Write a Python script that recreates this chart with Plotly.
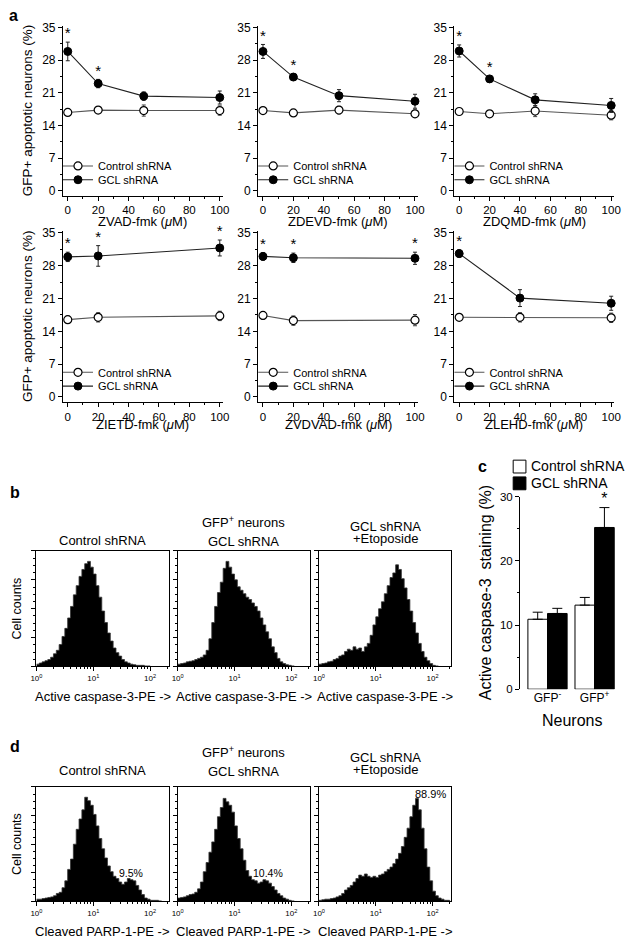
import numpy as np
import plotly.graph_objects as go

W, H = 632, 944
FONT = "Liberation Sans, Arial, Helvetica, sans-serif"


def fx(p):
    return p / W


def fy(p):
    return 1 - p / H


# ---------------- panel a data ----------------
a_titles = ["ZVAD-fmk (<i>μ</i>M)", "ZDEVD-fmk (<i>μ</i>M)", "ZDQMD-fmk (<i>μ</i>M)",
            "ZIETD-fmk (<i>μ</i>M)", "ZVDVAD-fmk (<i>μ</i>M)", "ZLEHD-fmk (<i>μ</i>M)"]
a_dose = [[0, 20, 50, 100], [0, 20, 50, 100], [0, 20, 50, 100],
          [0, 20, 100], [0, 20, 100], [0, 40, 100]]
gcl_mean = [[29.9, 23.0, 20.3, 20.0], [29.9, 24.4, 20.4, 19.2], [30.0, 24.0, 19.5, 18.3],
            [29.9, 30.1, 31.8], [30.0, 29.7, 29.6], [30.6, 21.1, 20.0]]
gcl_err = [[2.0, 0.9, 0.9, 1.4], [1.5, 0.7, 1.3, 1.5], [1.3, 0.6, 1.3, 1.5],
           [1.0, 2.2, 1.7], [0.8, 1.0, 1.3], [0.8, 1.8, 1.5]]
ctl_mean = [[16.8, 17.3, 17.2, 17.2], [17.2, 16.7, 17.3, 16.5], [17.0, 16.5, 17.1, 16.2],
            [16.5, 17.0, 17.3], [17.4, 16.3, 16.4], [17.0, 17.0, 16.9]]
ctl_err = [[0.5, 0.6, 1.2, 1.0], [0.4, 0.4, 0.8, 0.8], [0.5, 0.4, 1.2, 1.0],
           [0.7, 1.0, 1.0], [0.8, 1.0, 1.2], [0.6, 1.0, 1.0]]
a_sig = [[1, 1, 0, 0], [1, 1, 0, 0], [1, 1, 0, 0], [1, 1, 1], [1, 1, 1], [1, 0, 0]]
a_yticks = [0, 7, 14, 21, 28, 35]
a_xticks = [0, 20, 40, 60, 80, 100]
series_names = ["Control shRNA", "GCL shRNA"]

# ---------------- panel c data ----------------
c_groups = ["GFP<sup>-</sup>", "GFP<sup>+</sup>"]
c_ctl = [10.9, 13.1]
c_ctl_err = [1.1, 1.2]
c_gcl = [11.8, 25.2]
c_gcl_err = [0.8, 3.1]
c_sig = [0, 1]
c_yticks = [0, 10, 20, 30]

# ---------------- panels b / d histogram data (log10 channel bins of 0.05) ----------------
hist_bin = 0.05
b_ctl = [2, 3, 4, 5, 6, 8, 11, 14, 19, 26, 33, 42, 52, 62, 70, 78, 84, 89, 91, 86,
         80, 70, 60, 48, 38, 29, 22, 16, 12, 9, 6, 4, 3, 2, 1.5, 1, 1, 1, 0.5, 0.5, 0]
b_gcl = [2, 2.5, 3, 4, 4.5, 5, 6, 7, 8, 10, 14, 24, 38, 52, 64, 73, 85, 91, 86, 80,
         75, 69, 66, 63, 60, 58, 55, 52, 48, 42, 36, 30, 24, 17, 12, 7, 4, 2.5, 1.5, 1, 0.5, 0]
b_eto = [2, 2.5, 3, 4, 4.5, 6, 7, 9, 10, 13, 15, 14, 17, 15, 16, 13, 17, 20, 27, 36,
         43, 50, 56, 63, 70, 77, 81, 88, 84, 76, 68, 58, 48, 38, 29, 20, 13, 8, 5, 2.5, 1, 0.5, 0]
d_ctl = [2, 2, 2.5, 3, 3.5, 4, 5, 7, 8, 12, 18, 28, 37, 50, 63, 72, 80, 91, 88, 84,
         76, 66, 55, 46, 38, 31, 26, 22, 20, 17, 15, 17, 20, 19, 18, 14, 10, 6, 3, 2,
         1, 1, 1, 0.5, 0]
d_gcl = [3, 3.5, 4, 5, 6, 6.5, 8, 11, 17, 26, 34, 43, 52, 63, 74, 82, 90, 87, 84, 78,
         66, 55, 46, 36, 27, 22, 19, 18, 16, 17, 19, 18, 16, 13, 10, 7, 5, 3, 2, 1, 0.5, 0]
d_eto = [1, 1.5, 2, 2, 2.5, 3, 4, 5, 7, 10, 12, 14, 17, 20, 23, 22, 24, 22, 21, 22,
         21, 23, 24, 26, 28, 30, 33, 37, 42, 48, 56, 64, 74, 84, 90, 80, 64, 46, 30, 18,
         9, 5, 3, 2, 1, 1, 0]
b_hists = [b_ctl, b_gcl, b_eto]
d_hists = [d_ctl, d_gcl, d_eto]
b_xlabel = "Active caspase-3-PE ->"
d_xlabel = "Cleaved PARP-1-PE ->"
d_percent = ["9.5%", "10.4%", "88.9%"]
hist_xticks = [0, 1, 2]
hist_xticktext = ["10<sup>0</sup>", "10<sup>1</sup>", "10<sup>2</sup>"]

fig = go.Figure()
layout = {}
annotations = []
shapes = []

axis_common = dict(showline=True, linecolor="black", linewidth=1, ticks="outside",
                   tickcolor="black", showgrid=False, zeroline=False,
                   tickfont=dict(family=FONT, size=12, color="black"))


def note(text, x, y, size, angle=0, xanchor="center", bold=False):
    annotations.append(dict(text=("<b>%s</b>" % text) if bold else text, x=fx(x), y=fy(y),
                            xref="paper", yref="paper", xanchor=xanchor, yanchor="middle",
                            showarrow=False, textangle=angle,
                            font=dict(family=FONT, size=size, color="black")))


# ---------------- panel a ----------------
col_dom = [(58, 221), (257, 420), (457, 620)]
row_dom = [(20, 192), (228, 401)]
row_yrange = [(-1.06, 35.42), (-1.05, 35.4)]
leg_y = [(162, 176), (371, 385)]
xtitle_y = [218, 424]
for i in range(6):
    r, c = divmod(i, 3)
    k = i + 1
    xs = "" if k == 1 else str(k)
    xa, ya = "x" + xs, "y" + xs
    lg1 = "legend" if k == 1 else "legend%d" % (2 * i + 1)
    lg2 = "legend%d" % (2 * i + 2)
    x = a_dose[i]
    fig.add_trace(go.Scatter(
        x=x, y=ctl_mean[i], mode="lines+markers", name=series_names[0],
        line=dict(color="#555555", width=1.1),
        marker=dict(symbol="circle", size=8, color="white", line=dict(color="black", width=1.2)),
        error_y=dict(type="data", array=ctl_err[i], color="#444444", thickness=1, width=2),
        xaxis=xa, yaxis=ya, legend=lg1, cliponaxis=False))
    fig.add_trace(go.Scatter(
        x=x, y=gcl_mean[i], mode="lines+markers", name=series_names[1],
        line=dict(color="#222222", width=1.1),
        marker=dict(symbol="circle", size=8, color="black", line=dict(color="black", width=1)),
        error_y=dict(type="data", array=gcl_err[i], color="#222222", thickness=1, width=2),
        xaxis=xa, yaxis=ya, legend=lg2, cliponaxis=False))
    sx = [x[j] for j in range(len(x)) if a_sig[i][j]]
    sy = [gcl_mean[i][j] + gcl_err[i][j] for j in range(len(x)) if a_sig[i][j]]
    fig.add_trace(go.Scatter(
        x=sx, y=sy, mode="text", text=["*"] * len(sx), textposition="top center",
        textfont=dict(family=FONT, size=15, color="black"), showlegend=False,
        xaxis=xa, yaxis=ya, cliponaxis=False, hoverinfo="skip"))
    layout["xaxis" + xs] = dict(axis_common, domain=[fx(col_dom[c][0]), fx(col_dom[c][1])],
                                range=[-3.2, 102], tickvals=a_xticks, ticklen=4, anchor=ya,
                                tickfont=dict(family=FONT, size=11.5, color="black"),
                                minor=dict(dtick=10, ticklen=2, ticks="outside", tickcolor="black"))
    layout["yaxis" + xs] = dict(axis_common, domain=[fy(row_dom[r][1]), fy(row_dom[r][0])],
                                range=list(row_yrange[r]), tickvals=a_yticks, ticklen=4, anchor=xa,
                                minor=dict(dtick=3.5, ticklen=2, ticks="outside", tickcolor="black"))
    for lg, yy in ((lg1, leg_y[r][0]), (lg2, leg_y[r][1])):
        layout[lg] = dict(x=fx(col_dom[c][0] - 5), xanchor="left", y=fy(yy), yanchor="middle",
                          bgcolor="rgba(0,0,0,0)", borderwidth=0,
                          font=dict(family=FONT, size=11, color="black"))
    note(a_titles[i], (col_dom[c][0] + col_dom[c][1]) / 2, xtitle_y[r], 13)
for r in range(2):
    note("GFP+ apoptotic neurons (%)", 22, (row_dom[r][0] + row_dom[r][1]) / 2, 13.5, angle=-90)

# ---------------- panels b and d ----------------
box_x = [(31, 166), (175, 310), (319, 454)]
minor_vals = [d + np.log10(m) for d in range(3) for m in range(2, 10) if d + np.log10(m) < 2.33]
panels = [(b_hists, (552, 669), b_xlabel), (d_hists, (791, 907), d_xlabel)]
kk = 7
for p, (hists, (ytop, ybot), xlabel) in enumerate(panels):
    for j in range(3):
        kk += 1
        xs = str(kk)
        vals = hists[j]
        edges = [n * hist_bin for n in range(len(vals) + 1)]
        fig.add_trace(go.Scatter(
            x=edges, y=list(vals) + [vals[-1]], mode="lines", line_shape="hv",
            fill="tozeroy", fillcolor="black", line=dict(color="#333333", width=0.8),
            showlegend=False, xaxis="x" + xs, yaxis="y" + xs, hoverinfo="skip"))
        layout["xaxis" + xs] = dict(axis_common, domain=[fx(box_x[j][0]), fx(box_x[j][1])],
                                    range=[0, 2.33], tickvals=hist_xticks, ticktext=hist_xticktext,
                                    ticklen=4, mirror=True, anchor="y" + xs,
                                    tickfont=dict(family=FONT, size=8, color="black"),
                                    minor=dict(tickmode="array", tickvals=minor_vals, ticklen=2,
                                               ticks="outside", tickcolor="black"))
        layout["yaxis" + xs] = dict(axis_common, domain=[fy(ybot), fy(ytop)], range=[0, 100],
                                    tickvals=[0, 25, 50, 75, 100], showticklabels=False,
                                    ticklen=4, mirror=True, anchor="x" + xs,
                                    minor=dict(dtick=6.25, ticklen=2, ticks="outside",
                                               tickcolor="black"))
        note(xlabel, (box_x[j][0] + box_x[j][1]) / 2, ybot + 30, 13)
    note("Cell counts", 11, (ytop + ybot) / 2, 12.5, angle=-90)

# titles above histograms
title_specs = [
    [("Control shRNA", 98.5, 541), ("GFP<sup>+</sup> neurons", 242.5, 523),
     ("GCL shRNA", 242.5, 542), ("GCL shRNA", 386.5, 527), ("+Etoposide", 386.5, 539)],
    [("Control shRNA", 98.5, 774), ("GFP<sup>+</sup> neurons", 242.5, 756),
     ("GCL shRNA", 242.5, 775), ("GCL shRNA", 386.5, 761), ("+Etoposide", 386.5, 773)],
]
for items in title_specs:
    for t, xx, yy in items:
        note(t, xx, yy, 13)
for t, xx, yy, sz in [(d_percent[0], 127, 878, 10.5), (d_percent[1], 267, 878, 10.5),
                      (d_percent[2], 433, 798, 11)]:
    note(t, xx, yy, sz)

# ---------------- panel c ----------------
cx_vals = list(range(len(c_groups)))
fig.add_trace(go.Bar(x=cx_vals, y=c_ctl, name=series_names[0],
                     marker=dict(color="white", line=dict(color="black", width=1)),
                     error_y=dict(type="data", symmetric=False, array=c_ctl_err,
                                  arrayminus=[0] * len(c_ctl), color="black", thickness=1, width=5),
                     xaxis="x7", yaxis="y7", showlegend=False, cliponaxis=False))
fig.add_trace(go.Bar(x=cx_vals, y=c_gcl, name=series_names[1],
                     marker=dict(color="black", line=dict(color="black", width=1)),
                     error_y=dict(type="data", symmetric=False, array=c_gcl_err,
                                  arrayminus=[0] * len(c_gcl), color="black", thickness=1, width=5),
                     xaxis="x7", yaxis="y7", showlegend=False, cliponaxis=False))
sx = [cx_vals[j] + 0.2083 for j in range(len(c_groups)) if c_sig[j]]
sy = [c_gcl[j] + c_gcl_err[j] for j in range(len(c_groups)) if c_sig[j]]
fig.add_trace(go.Scatter(x=sx, y=sy, mode="text", text=["*"] * len(sx), textposition="top center",
                         textfont=dict(family=FONT, size=16, color="black"), showlegend=False,
                         xaxis="x7", yaxis="y7", cliponaxis=False, hoverinfo="skip"))
layout["xaxis7"] = dict(domain=[fx(524), fx(624)], range=[-0.583, 1.5], tickvals=cx_vals,
                        ticktext=c_groups, showline=False, ticks="", showgrid=False,
                        zeroline=False, anchor="y7",
                        tickfont=dict(family=FONT, size=12, color="black"))
layout["yaxis7"] = dict(axis_common, domain=[fy(692), fy(497)], range=[0, 30], tickvals=c_yticks,
                        ticklen=4, anchor="x7", tickfont=dict(family=FONT, size=11.5, color="black"),
                        minor=dict(dtick=5, ticklen=2, ticks="outside", tickcolor="black"))
note("Active caspase-3  staining (%)", 489, 594, 16, angle=-90)
note("Neurons", 577, 724, 16)
# legend keys for panel c
shapes.append(dict(type="rect", xref="paper", yref="paper", x0=fx(517), x1=fx(530),
                   y0=fy(473), y1=fy(460), fillcolor="white", line=dict(color="black", width=1)))
shapes.append(dict(type="rect", xref="paper", yref="paper", x0=fx(517), x1=fx(530),
                   y0=fy(490), y1=fy(477), fillcolor="black", line=dict(color="black", width=1)))
note(series_names[0], 533, 466, 14, xanchor="left")
note(series_names[1], 533, 483, 14, xanchor="left")

# panel letters
for t, xx, yy in [("a", 8, 10), ("b", 9, 493), ("c", 486, 466), ("d", 9, 750)]:
    note(t, xx, yy, 16, bold=True)

fig.update_layout(width=W, height=H, margin=dict(l=0, r=0, t=0, b=0), autosize=False,
                  paper_bgcolor="white", plot_bgcolor="white", showlegend=True,
                  barmode="group", bargap=0.167, bargroupgap=0,
                  annotations=annotations, shapes=shapes, **layout)
# remove the browser's default 8px body margin so the 632x944 figure fills the window exactly
fig.write_html("out.html", config={"displayModeBar": False},
               post_script="document.body.style.margin='0px';")
